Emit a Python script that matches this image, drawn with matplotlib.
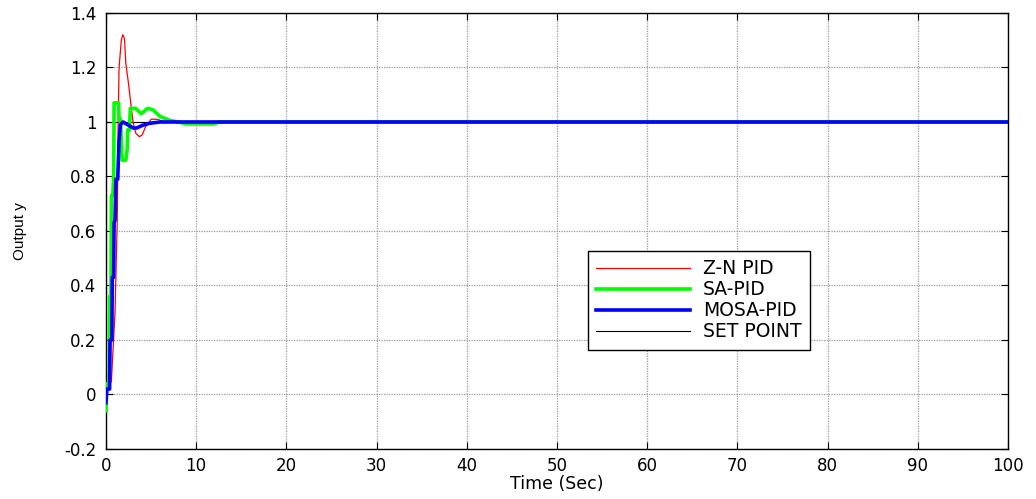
import matplotlib
matplotlib.use("Agg")
import matplotlib.pyplot as plt

# step responses of the three tuned PID loops
t_zn = [0, 0.6, 1.0, 1.25, 1.35, 1.45, 1.6, 1.7, 1.85, 2.0, 2.06, 2.2, 2.5, 2.76,
        3.0, 3.3, 3.7, 4.0, 4.4, 4.8, 5.0, 5.7, 6.5, 100]
y_zn = [0, 0.05, 0.3, 0.64, 1.0, 1.2, 1.26, 1.30, 1.32, 1.31, 1.30, 1.215, 1.14, 1.065,
        1.0, 0.959, 0.946, 0.952, 0.983, 1.0, 1.01, 1.01, 1.0, 1.0]

t_sa = [0, 0.08, 0.35, 0.4, 0.55, 0.6, 0.75, 0.85, 0.9, 1.0, 1.4, 1.45, 1.6, 1.8,
        2.2, 2.35, 2.4, 2.6, 2.7, 3.3, 3.9, 4.6, 5.2, 6.0, 7.2, 8.0, 9.0, 12.0, 12.5, 100]
y_sa = [-0.06, 0.04, 0.04, 0.36, 0.36, 0.73, 0.73, 0.8, 1.07, 1.07, 1.07, 1.01, 1.01, 0.86,
        0.86, 0.9, 0.97, 0.97, 1.05, 1.05, 1.03, 1.05, 1.045, 1.02, 1.005, 1.0, 0.993, 0.993, 1.0, 1.0]

t_mosa = [0, 0.1, 0.4, 0.45, 0.65, 0.7, 0.85, 0.9, 1.0, 1.1, 1.3, 1.45, 1.6, 1.9,
          2.4, 3.0, 3.4, 4.0, 4.8, 6.0, 100]
y_mosa = [-0.03, 0.02, 0.02, 0.2, 0.2, 0.43, 0.43, 0.63, 0.64, 0.79, 0.79, 0.93, 0.99, 1.0,
          0.99, 0.978, 0.978, 0.987, 0.995, 1.0, 1.0]

t_sp = [0, 100]
y_sp = [1, 1]

x_ticks = [0, 10, 20, 30, 40, 50, 60, 70, 80, 90, 100]
y_ticks = [-0.2, 0, 0.2, 0.4, 0.6, 0.8, 1.0, 1.2, 1.4]
y_tick_labels = ["-0.2", "0", "0.2", "0.4", "0.6", "0.8", "1", "1.2", "1.4"]

plt.rcParams["font.family"] = ["DejaVu Sans"]

fig = plt.figure(figsize=(10.36, 4.99), dpi=100)
ax = fig.add_axes([0.1023, 0.1002, 0.8707, 0.8738])

ax.plot(t_sp, y_sp, color="black", lw=0.8, label="SET POINT", zorder=2)
ax.plot(t_zn, y_zn, color="red", lw=0.9, label="Z-N PID", zorder=3)
ax.plot(t_sa, y_sa, color="#00ff00", lw=2.6, label="SA-PID", zorder=4)
ax.plot(t_mosa, y_mosa, color="#0000ff", lw=2.6, label="MOSA-PID", zorder=5)

ax.set_xlim(0, 100)
ax.set_ylim(-0.2, 1.4)
ax.set_xticks(x_ticks)
ax.set_yticks(y_ticks)
ax.set_yticklabels(y_tick_labels)
ax.tick_params(direction="in", top=True, right=True, labelsize=12, length=5)
ax.tick_params(axis="y", pad=7)
ax.tick_params(axis="x", pad=6)
ax.grid(True, color="#9a9a9a", linestyle=(0, (1, 1)), linewidth=0.9)
for s in ax.spines.values():
    s.set_linewidth(1.0)

ax.set_xlabel("Time (Sec)", fontsize=12.5, labelpad=0)
ax.set_ylabel("Output y", fontsize=11, family=["Liberation Sans Narrow", "Liberation Sans"])
ax.yaxis.set_label_coords(-0.0876, 0.5)

h, l = ax.get_legend_handles_labels()
order = [1, 2, 3, 0]
leg = ax.legend([h[i] for i in order], [l[i] for i in order],
                loc="upper left", bbox_to_anchor=(0.534, 0.454),
                fontsize=13.5, handlelength=5.0, labelspacing=0.1,
                fancybox=False, framealpha=1, edgecolor="black",
                borderpad=0.45, handletextpad=0.7, borderaxespad=0)
leg.get_frame().set_linewidth(1.0)

fig.savefig("out.png", dpi=100)
